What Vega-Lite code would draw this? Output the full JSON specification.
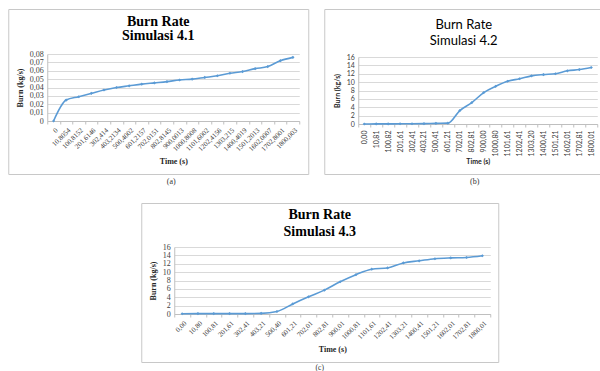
{
  "$schema": "https://vega.github.io/schema/vega-lite/v6.json",
  "background": "white",
  "padding": {"left": 7, "top": 8, "right": 0, "bottom": 0},
  "config": {
    "view": {"stroke": "#c8c8c8", "strokeWidth": 1},
    "title": {"fontWeight": "normal", "color": "#000", "anchor": "middle"},
    "axis": {"gridColor": "#d9d9d9", "domainColor": "#bfbfbf", "tickColor": "#bfbfbf", "labelColor": "#404040", "titleColor": "#262626"}
  },
  "datasets": {
    "a": [
      {"t": "0", "burn": 0},
      {"t": "10,8054", "burn": 0.025},
      {"t": "100,8152", "burn": 0.029},
      {"t": "201,6146", "burn": 0.033},
      {"t": "302,414", "burn": 0.037},
      {"t": "403,2134", "burn": 0.04},
      {"t": "500,4002", "burn": 0.042},
      {"t": "601,2157", "burn": 0.044},
      {"t": "702,0151", "burn": 0.0455},
      {"t": "802,8145", "burn": 0.047},
      {"t": "900,0013", "burn": 0.049},
      {"t": "1000,8008", "burn": 0.05},
      {"t": "1101,6002", "burn": 0.052},
      {"t": "1202,4156", "burn": 0.054},
      {"t": "1303,215", "burn": 0.057},
      {"t": "1400,4019", "burn": 0.059},
      {"t": "1501,2013", "burn": 0.0625},
      {"t": "1602,0007", "burn": 0.065},
      {"t": "1702,8001", "burn": 0.072},
      {"t": "1800,003", "burn": 0.076}
    ],
    "b": [
      {"t": "0,00", "burn": 0},
      {"t": "10,81", "burn": 0.02},
      {"t": "100,82", "burn": 0.02},
      {"t": "201,61", "burn": 0.05},
      {"t": "302,41", "burn": 0.05},
      {"t": "403,21", "burn": 0.08},
      {"t": "500,41", "burn": 0.15},
      {"t": "601,21", "burn": 0.2},
      {"t": "702,01", "burn": 3.2},
      {"t": "802,81", "burn": 5.1},
      {"t": "900,00", "burn": 7.5},
      {"t": "1000,80", "burn": 9.0},
      {"t": "1101,61", "burn": 10.2},
      {"t": "1202,41", "burn": 10.8},
      {"t": "1303,20", "burn": 11.5},
      {"t": "1400,41", "burn": 11.8},
      {"t": "1501,21", "burn": 12.0},
      {"t": "1602,01", "burn": 12.7},
      {"t": "1702,81", "burn": 13.0},
      {"t": "1800,01", "burn": 13.5}
    ],
    "c": [
      {"t": "0,00", "burn": 0.05},
      {"t": "10,80", "burn": 0.1},
      {"t": "100,81", "burn": 0.1},
      {"t": "201,61", "burn": 0.1},
      {"t": "302,41", "burn": 0.1},
      {"t": "403,21", "burn": 0.15},
      {"t": "500,40", "burn": 0.6},
      {"t": "601,21", "burn": 2.4},
      {"t": "702,01", "burn": 4.1},
      {"t": "802,81", "burn": 5.7},
      {"t": "900,01", "burn": 7.7},
      {"t": "1000,81", "burn": 9.4},
      {"t": "1101,61", "burn": 10.7},
      {"t": "1202,41", "burn": 11.0},
      {"t": "1303,21", "burn": 12.2},
      {"t": "1400,41", "burn": 12.7},
      {"t": "1501,21", "burn": 13.2},
      {"t": "1602,01", "burn": 13.4},
      {"t": "1702,81", "burn": 13.5},
      {"t": "1800,01", "burn": 13.9}
    ]
  },
  "vconcat": [
    {
      "hconcat": [
        {
          "title": {"text": "(a)", "orient": "bottom", "anchor": "middle", "offset": 3, "dx": 13, "font": "Liberation Serif", "fontSize": 8, "color": "#333"},
          "vconcat": [
            {
              "width": 300,
              "height": 165,
              "data": {"name": "a"},
              "title": {"text": ["Burn Rate", "Simulasi 4.1"], "offset": -34, "font": "Liberation Serif", "fontSize": 14, "fontWeight": "bold", "lineHeight": 14},
              "encoding": {
                "x": {
                  "field": "t", "type": "nominal", "sort": null,
                  "scale": {"type": "band", "range": [39, 291], "paddingInner": 0, "paddingOuter": 0},
                  "axis": {"orient": "bottom", "offset": -53, "labelAngle": -45, "labelFont": "Liberation Serif", "labelFontSize": 7, "labelPadding": 2, "tickBand": "extent", "tickSize": 3, "grid": false, "title": "Time (s)", "titleFont": "Liberation Serif", "titleFontSize": 8, "titleFontWeight": "bold", "titleY": 40, "titleBaseline": "middle"}
                },
                "y": {
                  "field": "burn", "type": "quantitative",
                  "scale": {"domain": [0, 0.08], "range": [112, 45], "nice": false},
                  "axis": {"orient": "left", "offset": -39, "values": [0, 0.01, 0.02, 0.03, 0.04, 0.05, 0.06, 0.07, 0.08], "labelExpr": "datum.value == 0 ? '0' : replace(format(datum.value, '.2f'), '.', ',')", "labelFont": "Liberation Serif", "labelFontSize": 8, "labelPadding": 4, "ticks": false, "domain": true, "grid": true, "title": "Burn (kg/s)", "titleFont": "Liberation Serif", "titleFontSize": 8, "titleFontWeight": "bold", "titleX": -27, "titleBaseline": "middle"}
                }
              },
              "layer": [
                {"mark": {"type": "line", "interpolate": "monotone", "color": "#5B9BD5", "strokeWidth": 1.6}},
                {"mark": {"type": "point", "filled": true, "shape": "diamond", "size": 10, "color": "#5B9BD5", "opacity": 1}}
              ]
            }
          ]
        },
        {
          "title": {"text": "(b)", "orient": "bottom", "anchor": "middle", "offset": 3, "dx": -1, "font": "Liberation Serif", "fontSize": 8, "color": "#333"},
          "vconcat": [
            {
              "width": 307,
              "height": 165,
              "data": {"name": "b"},
              "title": {"text": ["Burn Rate", "Simulasi 4.2"], "offset": -39, "dx": -14, "font": "Lato", "fontSize": 13, "fontWeight": "normal", "lineHeight": 16},
              "encoding": {
                "x": {
                  "field": "t", "type": "nominal", "sort": null,
                  "scale": {"type": "band", "range": [34, 273], "paddingInner": 0, "paddingOuter": 0},
                  "axis": {"orient": "bottom", "offset": -50, "labelAngle": -90, "labelAlign": "right", "labelBaseline": "middle", "labelFont": "Lato", "labelFontSize": 7, "labelPadding": 3, "tickBand": "extent", "tickSize": 3, "grid": false, "title": "Time (s)", "titleFont": "Lato", "titleFontSize": 7, "titleFontWeight": "bold", "titleY": 37, "titleBaseline": "middle"}
                },
                "y": {
                  "field": "burn", "type": "quantitative",
                  "scale": {"domain": [0, 16], "range": [115, 48], "nice": false},
                  "axis": {"orient": "left", "offset": -34, "values": [0, 2, 4, 6, 8, 10, 12, 14, 16], "labelFont": "Lato", "labelFontSize": 7, "labelPadding": 4, "ticks": false, "domain": true, "grid": true, "title": "Burn (kg/s)", "titleFont": "Lato", "titleFontSize": 7, "titleFontWeight": "bold", "titleX": -21, "titleBaseline": "middle"}
                }
              },
              "layer": [
                {"mark": {"type": "line", "interpolate": "monotone", "color": "#5B9BD5", "strokeWidth": 1.6}},
                {"mark": {"type": "point", "filled": true, "shape": "diamond", "size": 10, "color": "#5B9BD5", "opacity": 1}}
              ]
            }
          ]
        }
      ],
      "spacing": 10
    },
    {
      "title": {"text": "(c)", "orient": "bottom", "anchor": "middle", "offset": 1, "font": "Liberation Serif", "fontSize": 7.5, "color": "#333"},
      "vconcat": [
        {
          "width": 357,
          "height": 159,
          "data": {"name": "c"},
          "title": {"text": ["Burn Rate", "Simulasi 4.3"], "offset": -36, "font": "Liberation Serif", "fontSize": 14, "fontWeight": "bold", "lineHeight": 17},
          "encoding": {
            "x": {
              "field": "t", "type": "nominal", "sort": null,
              "scale": {"type": "band", "range": [33, 349], "paddingInner": 0, "paddingOuter": 0},
              "axis": {"orient": "bottom", "offset": -48, "labelAngle": -45, "labelFont": "Liberation Serif", "labelFontSize": 7, "labelPadding": 2, "tickBand": "extent", "tickSize": 3, "grid": false, "title": "Time (s)", "titleFont": "Liberation Serif", "titleFontSize": 8, "titleFontWeight": "bold", "titleY": 35, "titleBaseline": "middle"}
            },
            "y": {
              "field": "burn", "type": "quantitative",
              "scale": {"domain": [0, 16], "range": [111, 44], "nice": false},
              "axis": {"orient": "left", "offset": -33, "values": [0, 2, 4, 6, 8, 10, 12, 14, 16], "labelFont": "Liberation Serif", "labelFontSize": 8, "labelPadding": 4, "ticks": false, "domain": true, "grid": true, "title": "Burn (kg/s)", "titleFont": "Liberation Serif", "titleFontSize": 8, "titleFontWeight": "bold", "titleX": -21, "titleBaseline": "middle"}
            }
          },
          "layer": [
            {"mark": {"type": "line", "interpolate": "monotone", "color": "#5B9BD5", "strokeWidth": 1.6}},
            {"mark": {"type": "point", "filled": true, "shape": "diamond", "size": 10, "color": "#5B9BD5", "opacity": 1}}
          ]
        }
      ]
    }
  ],
  "spacing": 16,
  "center": true
}
